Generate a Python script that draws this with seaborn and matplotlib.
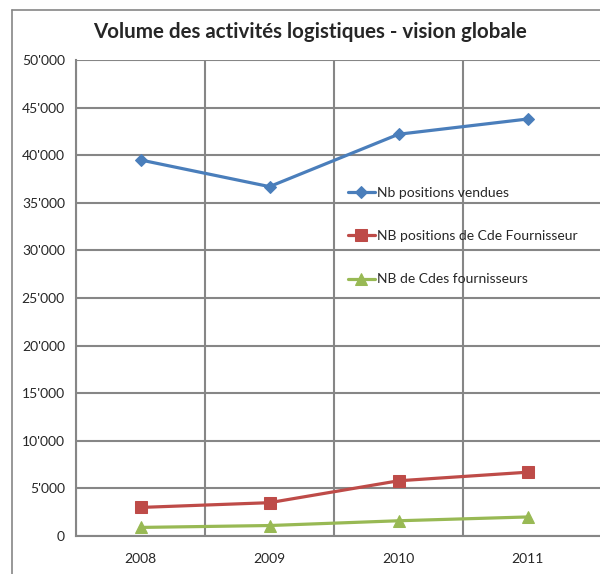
import pandas as pd
import matplotlib.pyplot as plt
import seaborn as sns
from matplotlib.ticker import FuncFormatter, FixedLocator
from matplotlib.lines import Line2D

# Données
years = ['2008', '2009', '2010', '2011']
positions_vendues = [39500, 36700, 42200, 43800]
positions_cde_fourn = [3000, 3500, 5800, 6700]
cdes_fournisseurs = [900, 1100, 1600, 2000]

series = ['Nb positions vendues', 'NB positions de Cde Fournisseur', 'NB de Cdes fournisseurs']
colors = ['#4A7EBB', '#BE4B48', '#98B954']
markers = ['D', 's', '^']
msizes = [6, 8, 8]

df = pd.DataFrame({
    'year': years * 3,
    'pos': list(range(len(years))) * 3,
    'value': positions_vendues + positions_cde_fourn + cdes_fournisseurs,
    'serie': [s for s in series for _ in years],
})

sns.set_style('white')
plt.rcParams['font.family'] = ['Lato', 'DejaVu Sans']

fig = plt.figure(figsize=(6, 5.74), dpi=100)
ax = fig.add_axes([76 / 600, 1 - 536 / 574, 524 / 600, 476 / 574])

# bordure extérieure (seulement haut et gauche visibles, image rognée)
fig.lines.append(Line2D([12 / 600, 12 / 600], [0, 1 - 10 / 574], transform=fig.transFigure,
                        color='#868686', linewidth=1.2))
fig.lines.append(Line2D([12 / 600, 1], [1 - 10 / 574, 1 - 10 / 574], transform=fig.transFigure,
                        color='#868686', linewidth=1.2))

for s, c, m, ms in zip(series, colors, markers, msizes):
    sub = df[df['serie'] == s]
    sns.lineplot(data=sub, x='pos', y='value', ax=ax, color=c, marker=m, markersize=ms,
                 markeredgecolor=c, linewidth=2.3, label=s)

# largeur d'une catégorie ~129 px, zone de tracé coupée à droite
ax.set_xlim(-0.5, -0.5 + 524 / 129)
ax.set_ylim(0, 50000)
ax.set_yticks(range(0, 50001, 5000))
ax.yaxis.set_major_formatter(FuncFormatter(lambda v, p: '0' if v == 0 else f"{int(v):,}".replace(',', "'")))

# grille verticale entre les catégories (style Excel)
ax.xaxis.set_major_locator(FixedLocator([i + 0.5 for i in range(-1, len(years) - 1)]))
ax.xaxis.set_minor_locator(FixedLocator(list(range(len(years)))))
ax.set_xticklabels([])
ax.set_xticklabels(years, minor=True)
ax.tick_params(axis='x', which='minor', length=0, pad=12, labelsize=10)
ax.tick_params(axis='x', which='major', length=5, color='#868686', width=1.5, direction='out')
ax.tick_params(axis='y', length=5, color='#868686', width=1.5, direction='out', labelsize=10, pad=3)

ax.grid(True, which='major', color='#868686', linewidth=1.5)
for sp in ['top', 'right']:
    ax.spines[sp].set_visible(False)
for sp in ['left', 'bottom']:
    ax.spines[sp].set_color('#868686')
    ax.spines[sp].set_linewidth(1.5)

ax.set_xlabel('')
ax.set_ylabel('')

fig.text(0.517, 0.944, 'Volume des activités logistiques - vision globale', ha='center', va='center',
         fontsize=14.8, fontweight='bold')

ax.legend(loc='upper left', bbox_to_anchor=(0.509, 0.745), frameon=False, fontsize=10,
          handlelength=1.9, handletextpad=0.15, labelspacing=2.25, borderaxespad=0)

plt.savefig('out.png', dpi=100)
